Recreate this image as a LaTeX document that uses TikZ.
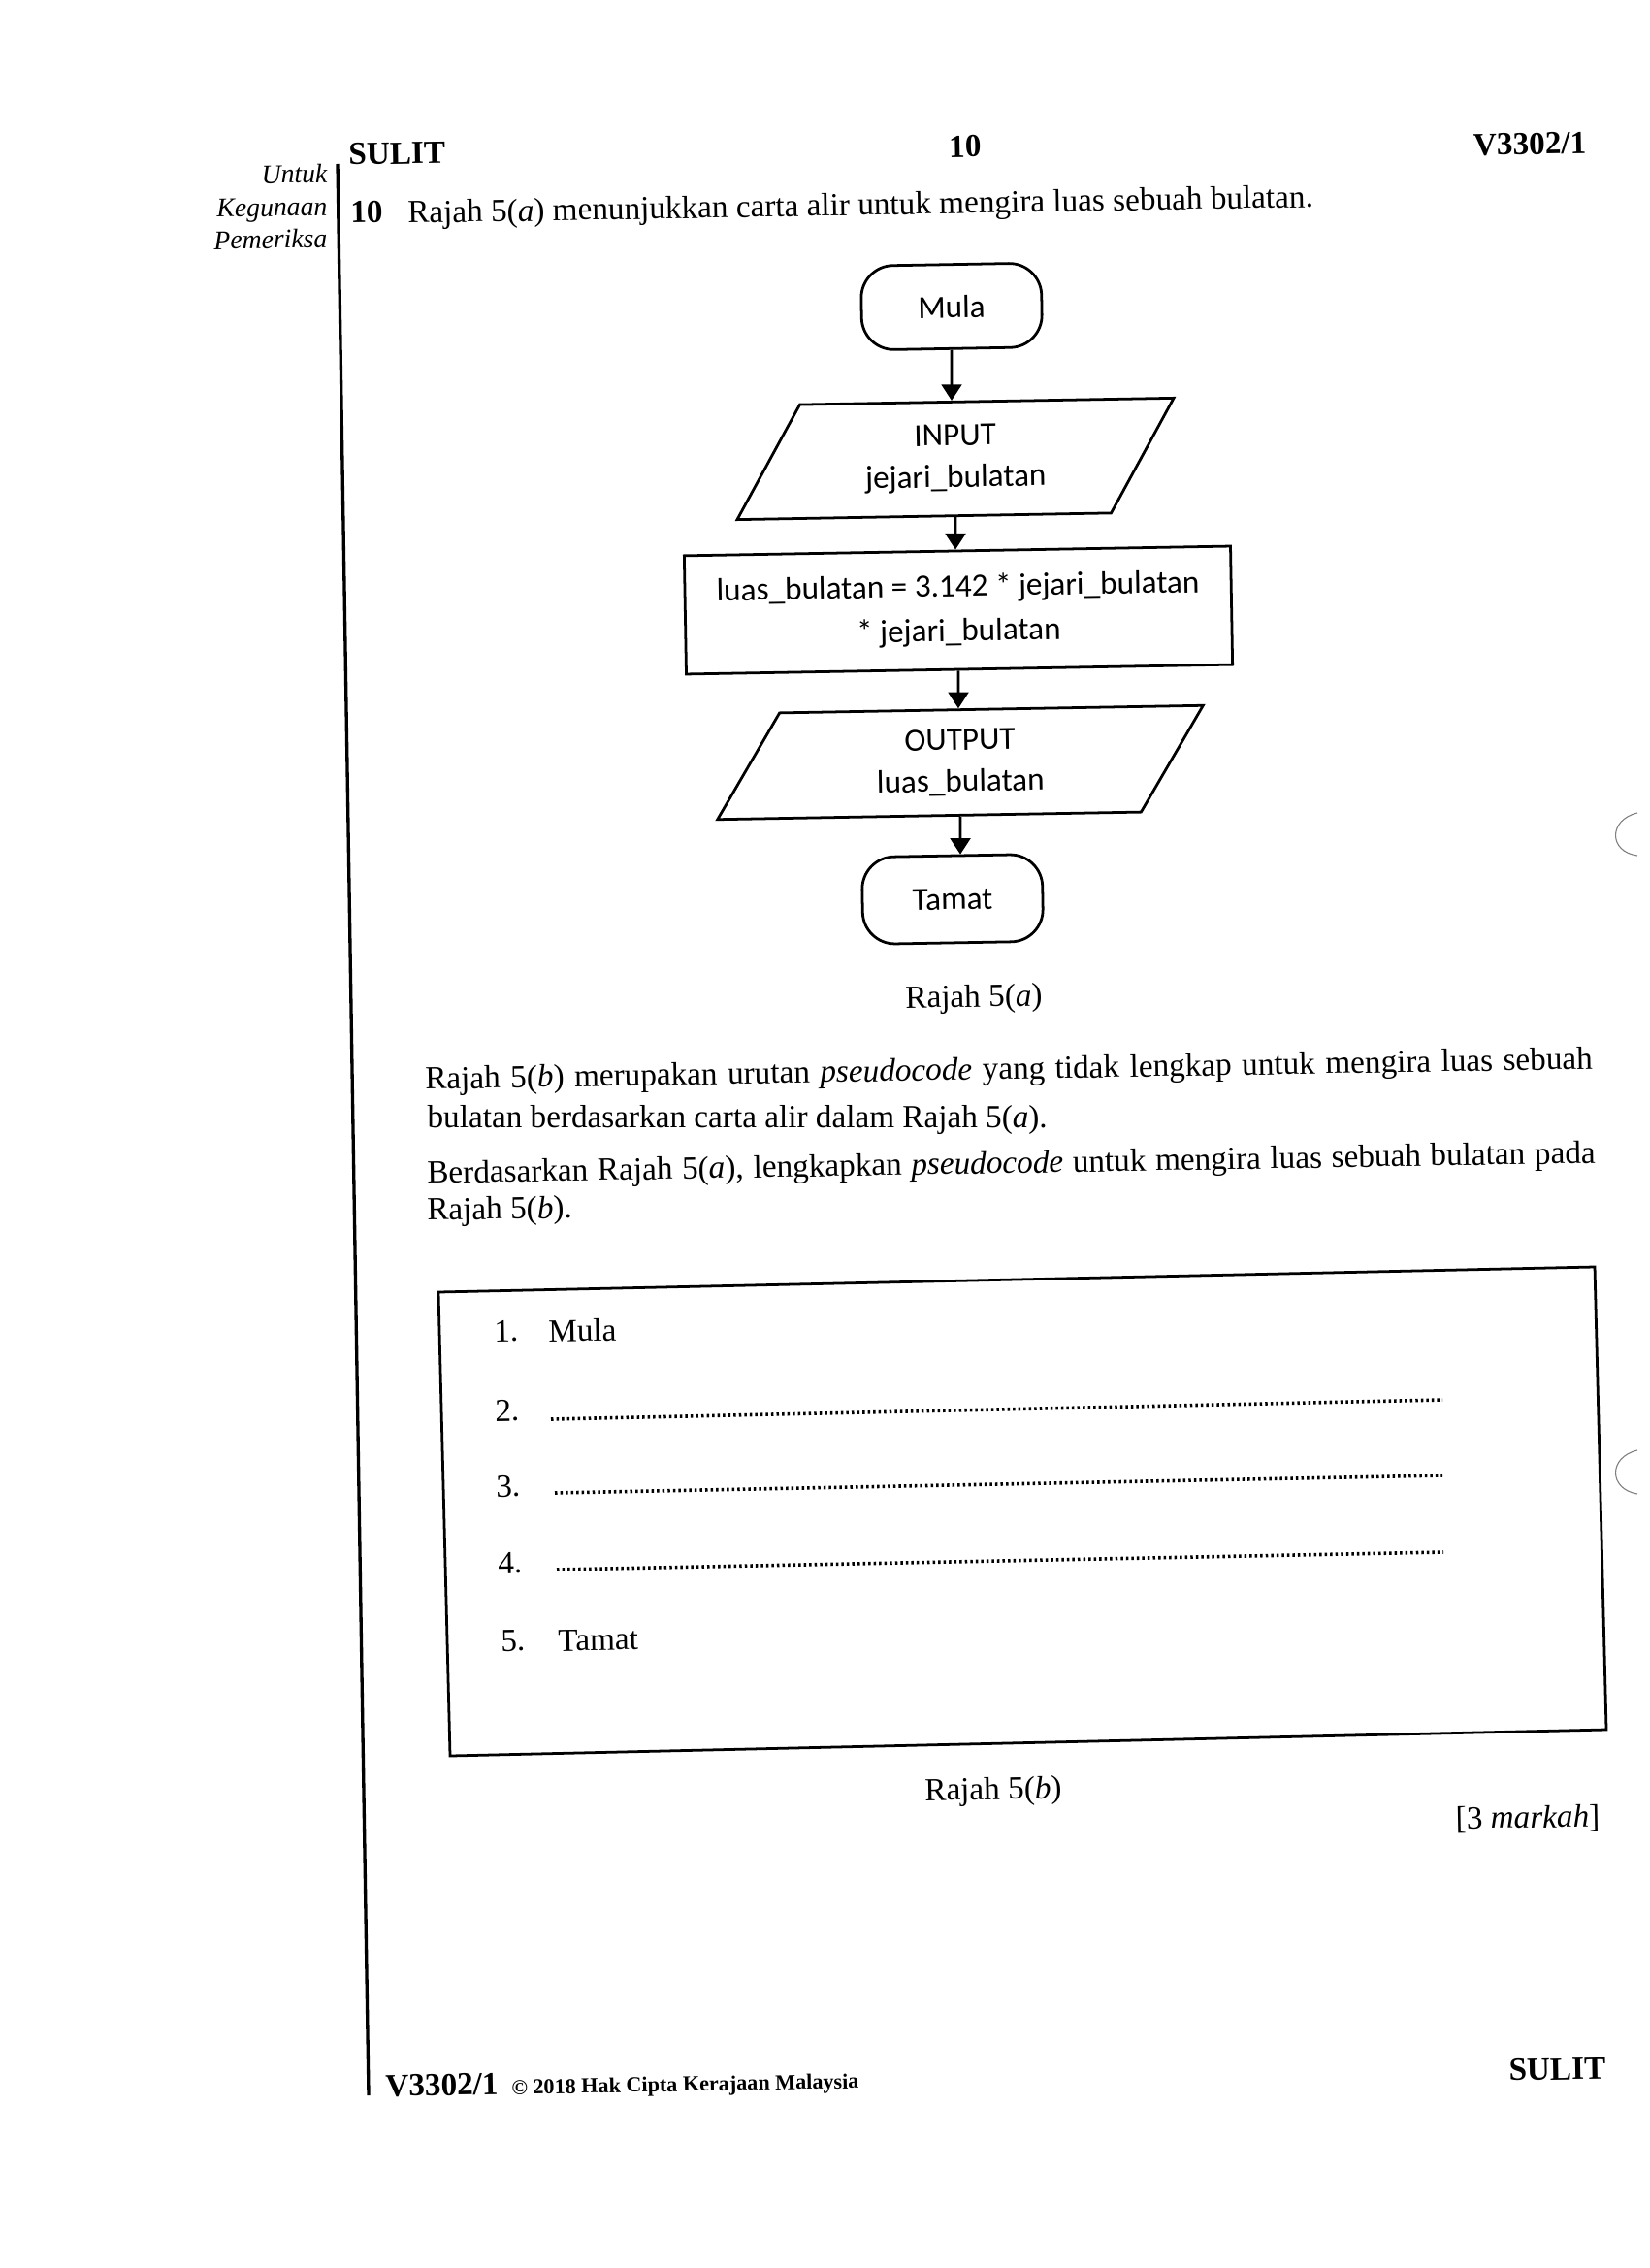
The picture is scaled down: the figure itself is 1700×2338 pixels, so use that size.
\documentclass[tikz,border=0pt]{standalone}
\usepackage{fontspec}
\setmainfont{Liberation Serif}
\newfontfamily\flowfont{Carlito}
\usetikzlibrary{arrows.meta,positioning,shapes.geometric}
\tikzset{%
	startstop/.style= {draw, rectangle, rounded corners=12pt, minimum width=2.36cm, minimum height=1.1cm, line width=1pt, text centered, font=\flowfont\fontsize{12}{15}\selectfont},
	inout/.style    = {draw, trapezium, trapezium left angle=53, trapezium right angle=127, trapezium stretches body, line width=1pt, align=center, font=\flowfont\fontsize{12}{15.5}\selectfont},
	process/.style  = {draw, rectangle, minimum width=7.15cm, minimum height=1.55cm, line width=1pt, align=center, font=\flowfont\fontsize{12}{16.5}\selectfont},
	arrow/.style    = {line width=1pt,-{Triangle[length=6pt,width=7.5pt]}},
}
\tikzset{%
	teks/.style     = {anchor=base west, inner sep=0pt, font=\fontsize{12}{14}\selectfont}, % body text
	tajuk/.style    = {inner sep=0pt, font=\fontsize{12}{14}\selectfont}, % figure captions
	kepala/.style   = {inner sep=0pt, font=\fontsize{12}{14}\selectfont\bfseries}, % header and footer
	pemeriksa/.style= {anchor=base east, inner sep=0pt, font=\fontsize{10}{12}\selectfont\itshape},
	hakcipta/.style = {anchor=base west, inner sep=0pt, font=\fontsize{8}{10}\selectfont\bfseries},
	kotak/.style    = {line width=1pt},
	titik/.style    = {line width=1.3pt, dash pattern=on 0.9pt off 1.1pt},
	lubang/.style   = {line width=0.4pt, gray},
}
\begin{document}
\begin{tikzpicture}[x=0.0127cm, y=-0.0127cm, every node/.append style={rotate=1}]
	\useasboundingbox (0,0) rectangle (1700,2338);
	
	% page header
	\node[kepala, anchor=base west] (sulitatas) at (359,170) {SULIT};
	\node[kepala, anchor=base] (muka) at (995,162) {10};
	\node[kepala, anchor=base east] (kodatas) at (1636,158) {V3302/1};
	\node[pemeriksa] (untuk) at (338,188) {Untuk};
	\node[pemeriksa] (kegunaan) at (338,222) {Kegunaan};
	\node[pemeriksa] (periksa) at (338,255) {Pemeriksa};
	\draw[line width=1.2pt] (348,169) -- (380,2160);
	
	\node[kepala, anchor=base west] (nombor) at (361,230) {10};
	\node[teks] (soalan) at (420,230) {Rajah 5(\textit{a}) menunjukkan carta alir untuk mengira luas sebuah bulatan.};
	
	% flowchart
	\node[startstop] (mula) at (981,316) {Mula};
	\node[inout, minimum width=5.74cm, minimum height=1.49cm] (input) at (985,473) {INPUT\\jejari\_bulatan};
	\node[process] (proses) at (988,629) {luas\_bulatan = 3.142 * jejari\_bulatan\\{}* jejari\_bulatan};
	\node[inout, minimum width=6.38cm, minimum height=1.38cm] (output) at (990,786) {OUTPUT\\luas\_bulatan};
	\node[startstop, minimum height=1.14cm] (tamat) at (982,927) {Tamat};
	
	\draw[arrow] (mula) -- (mula |- input.north);
	\draw[arrow] (input) -- (input |- proses.north);
	\draw[arrow] (proses) -- (proses |- output.north);
	\draw[arrow] (output) -- (output |- tamat.north);
	
	\node[tajuk] (rajaha) at (1004,1030) {Rajah 5(\textit{a})};
	
	% question text
	\node[teks] (ayat1) at (438,1123) {\makebox[15.28cm][s]{Rajah 5(\textit{b}) merupakan urutan \textit{pseudocode} yang tidak lengkap untuk mengira luas sebuah}};
	\node[teks, rotate=-1] (ayat2) at (440,1162) {bulatan berdasarkan carta alir dalam Rajah 5(\textit{a}).};
	\node[teks] (ayat3) at (440,1220) {\makebox[15.29cm][s]{Berdasarkan Rajah 5(\textit{a}), lengkapkan \textit{pseudocode} untuk mengira luas sebuah bulatan pada}};
	\node[teks] (ayat4) at (440,1258) {Rajah 5(\textit{b}).};
	
	% pseudocode box
	\draw[kotak] (452,1332) -- (1644,1306) -- (1656,1783) -- (464,1810) -- cycle;
	\node[teks] (no1) at (509,1383) {1.};
	\node[teks] (baris1) at (565,1383) {Mula};
	\node[teks] (no2) at (510,1465) {2.};
	\draw[titik] (568,1463) -- (1487,1443);
	\node[teks] (no3) at (511,1543) {3.};
	\draw[titik] (572,1539) -- (1487,1521);
	\node[teks] (no4) at (513,1622) {4.};
	\draw[titik] (574,1618) -- (1488,1600);
	\node[teks] (no5) at (516,1702) {5.};
	\node[teks] (baris5) at (575,1702) {Tamat};
	
	\node[tajuk] (rajahb) at (1024,1847) {Rajah 5(\textit{b})};
	\node[teks, anchor=base east] (markah) at (1650,1883) {[3 \textit{markah}]};
	
	% page footer
	\node[kepala, anchor=base west] (kodbawah) at (397,2161) {V3302/1};
	\node[hakcipta] (cipta) at (527,2159) {\textcopyright{} 2018 Hak Cipta Kerajaan Malaysia};
	\node[kepala, anchor=base east] (sulitbawah) at (1656,2143) {SULIT};
	
	% punch holes
	\draw[lubang] (1688,838) .. controls (1658,845) and (1658,878) .. (1688,882);
	\draw[lubang] (1688,1495) .. controls (1658,1502) and (1658,1535) .. (1688,1540);
\end{tikzpicture}
\end{document}
